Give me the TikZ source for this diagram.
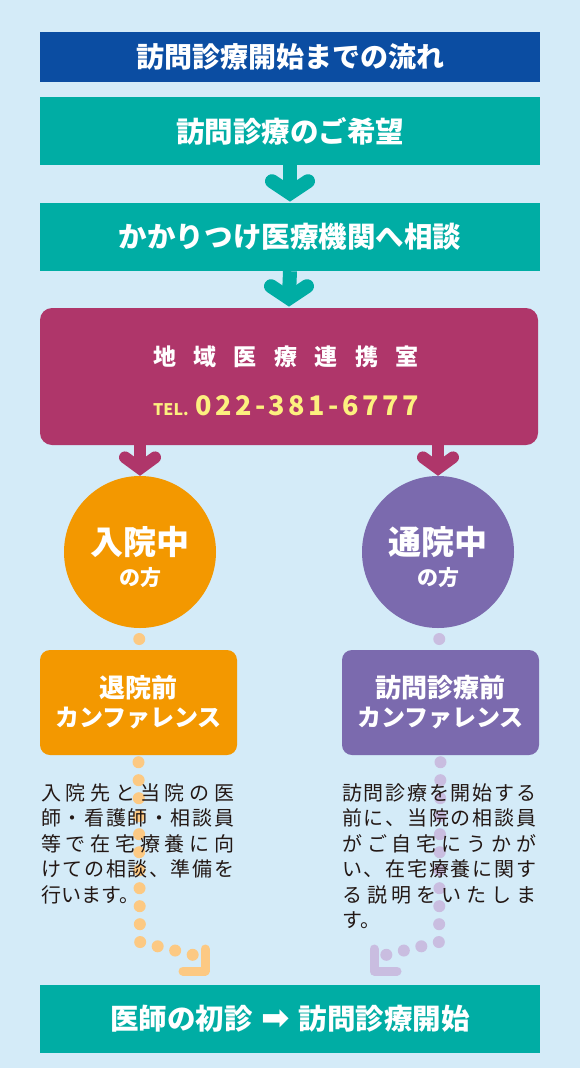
\documentclass[tikz,border=0pt]{standalone}
\usepackage{fontspec}
\setmainfont{Noto Sans CJK JP}
\newfontfamily\symfont{DejaVu Sans}
\usetikzlibrary{calc}
\definecolor{bg}{HTML}{D4EBF8}
\definecolor{navy}{HTML}{0B4DA2}
\definecolor{tealc}{HTML}{00ADA4}
\definecolor{magc}{HTML}{AF366A}
\definecolor{orc}{HTML}{F39800}
\definecolor{puc}{HTML}{7B6AAE}
\definecolor{ordot}{HTML}{FCC983}
\definecolor{pudot}{HTML}{C9BDE0}
\definecolor{telc}{HTML}{FCF07F}
\definecolor{txt}{HTML}{231815}
\makeatletter
\def\sp@read#1#2\sp@end{#1\ifx\relax#2\relax\else\hfil\sp@read#2\sp@end\fi}
\newcommand\spreadto[2]{\makebox[#1][s]{\sp@read#2\sp@end}}
\makeatother
\tikzset{
  titlebar/.style={fill=navy, minimum width=500pt, minimum height=50pt, inner sep=0pt, text=white, font=\bfseries\fontsize{28}{28}\selectfont},
  tbox/.style={fill=tealc, minimum width=500pt, minimum height=68pt, inner sep=0pt, text=white, font=\bfseries\fontsize{28.5}{28.5}\selectfont},
  magbox/.style={fill=magc, rounded corners=12pt, minimum width=498pt, minimum height=137pt, inner sep=0pt},
  roundc/.style={circle, minimum size=152pt, inner sep=0pt},
  cbig/.style={anchor=base, text=white, inner sep=0pt, font=\bfseries\fontsize{33}{33}\selectfont},
  csmall/.style={anchor=base, text=white, inner sep=0pt, font=\bfseries\fontsize{21}{21}\selectfont},
  confbox/.style={rounded corners=10pt, minimum width=197pt, minimum height=105pt, inner sep=0pt, text=white, align=center, font=\bfseries},
  para/.style={anchor=base west, inner sep=0pt, text=txt, font=\fontsize{20}{25.5}\selectfont},
  tshaft/.style={draw=tealc, line width=14pt},
  thead/.style={draw=tealc, line width=14pt, line cap=round, line join=miter, miter limit=10},
  mshaft/.style={draw=magc, line width=12pt},
  mhead/.style={draw=magc, line width=12pt, line cap=round, line join=miter, miter limit=10},
  dots/.style={line width=12pt, line cap=round, dash pattern=on 0pt off 18pt},
  corner/.style={line width=9pt, line cap=round, line join=round},
}
\begin{document}
\begin{tikzpicture}[x=1pt,y=-1pt]
\fill[bg] (0,0) rectangle (580,1068);
% boxes
\node[titlebar] (title) at (290,57) {訪問診療開始までの流れ};
\node[tbox] (b1) at (290,131) {訪問診療のご希望};
\node[tbox] (b2) at (290,237) {かかりつけ医療機関へ相談};
\node[magbox] (renkei) at (289,376.5) {};
\node[text=white, inner sep=0pt, font=\bfseries\fontsize{23}{23}\selectfont] (rname) at (286,357) {\spreadto{266pt}{地域医療連携室}};
\node[anchor=base west, inner sep=0pt, text=telc, font=\bfseries\fontsize{16}{16}\selectfont] (tel) at (153,415) {TEL.};
\node[anchor=base west, inner sep=0pt, text=telc, font=\bfseries\fontsize{27}{27}\selectfont] (telnum) at (195,415) {\spreadto{224pt}{022-381-6777}};
% teal arrows
\draw[tshaft] (b1.south) -- ($(b2.north)+(0,-12)$);
\draw[thead] ($(b2.north)+(-18,-21.6)$) -- ($(b2.north)+(0,-9.6)$) -- ($(b2.north)+(18,-21.6)$);
\draw[tshaft] (b2.south) -- ($(renkei.north)+(0,-12)$);
\draw[thead] ($(renkei.north)+(-18,-21.6)$) -- ($(renkei.north)+(0,-9.6)$) -- ($(renkei.north)+(18,-21.6)$);
% circles
\node[roundc, fill=orc] (c1) at (140,552) {};
\node[roundc, fill=puc] (c2) at (438,552) {};
% magenta arrows
\draw[mshaft] (renkei.south -| c1.north) -- ($(c1.north)+(0,-10)$);
\draw[mhead] ($(c1.north)+(-15,-18.4)$) -- ($(c1.north)+(0,-7.4)$) -- ($(c1.north)+(15,-18.4)$);
\draw[mshaft] (renkei.south -| c2.north) -- ($(c2.north)+(0,-10)$);
\draw[mhead] ($(c2.north)+(-15,-18.4)$) -- ($(c2.north)+(0,-7.4)$) -- ($(c2.north)+(15,-18.4)$);
\node[cbig] (c1a) at (140,554.5) {入院中};
\node[csmall] (c1b) at (140,585) {の方};
\node[cbig] (c2a) at (438,554.5) {通院中};
\node[csmall] (c2b) at (438,585) {の方};
% conference boxes
\node[confbox, fill=orc] (ob) at (138.5,702.5) {{\fontsize{26}{26}\selectfont 退院前}\\[6pt]{\fontsize{24}{24}\selectfont カンファレンス}};
\node[confbox, fill=puc] (pb) at (440.5,702.5) {{\fontsize{26}{26}\selectfont 訪問診療前}\\[6pt]{\fontsize{24}{24}\selectfont カンファレンス}};
% small dots between circles and boxes
\fill[ordot] ($(c1.south)!0.5!(ob.north)$) circle (6pt);
\fill[pudot] ($(c2.south)!0.5!(pb.north)$) circle (6pt);
% final box
\node[tbox] (last) at (290,1019) {医師の初診\hspace{9pt}{\symfont\fontsize{34}{34}\selectfont ➡}\hspace{9pt}訪問診療開始};
% dotted connectors
\coordinate (lturn) at (140,942);
\coordinate (lcorner) at (205,971);
\coordinate (rturn) at (439,942);
\coordinate (rcorner) at (374,971);
\draw[dots, draw=ordot] ($(ob.south)+(0,7)$) -- (lturn) -- ($(lturn)+(53.5,13)$);
\draw[corner, draw=ordot] ($(lcorner)+(-22,0)$) -- (lcorner) -- ($(lcorner)+(0,-22)$);
\draw[dots, draw=pudot] ($(pb.south)+(0,7)$) -- (rturn) -- ($(rturn)+(-53.5,13)$);
\draw[corner, draw=pudot] ($(rcorner)+(23,0)$) -- (rcorner) -- ($(rcorner)+(0,-22)$);
% paragraphs
\node[para] (ltext) at (41,800) {\parbox[t]{200pt}{%
\spreadto{193pt}{入院先と当院の医}\\
\spreadto{193pt}{師・看護師・相談員}\\
\spreadto{193pt}{等で在宅療養に向}\\
\spreadto{193pt}{けての相談、準備を}\\
行います。}};
\node[para] (rtext) at (342,800) {\parbox[t]{200pt}{%
\spreadto{194pt}{訪問診療を開始する}\\
\spreadto{194pt}{前に、当院の相談員}\\
\spreadto{194pt}{がご自宅にうかが}\\
\spreadto{194pt}{い、在宅療養に関す}\\
\spreadto{194pt}{る説明をいたしま}\\
す。}};
\end{tikzpicture}
\end{document}
